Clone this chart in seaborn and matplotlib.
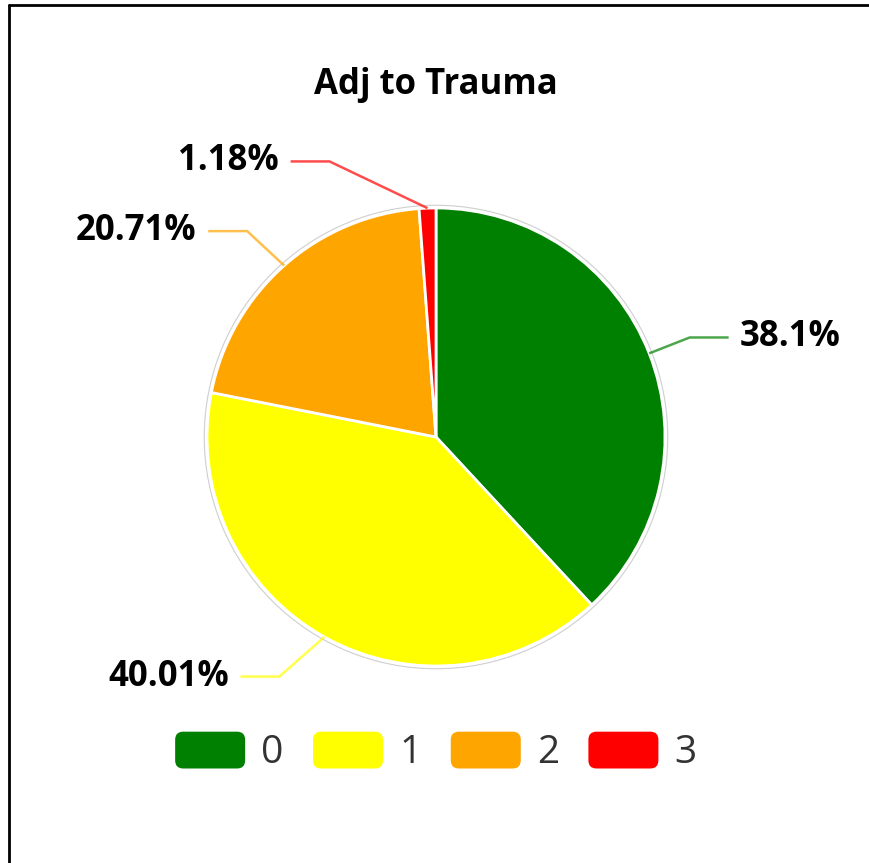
import numpy as np
import matplotlib.pyplot as plt
import seaborn as sns
from matplotlib.patches import FancyBboxPatch, Patch, Circle
from matplotlib.legend_handler import HandlerPatch
from matplotlib.lines import Line2D

categories = ['0', '1', '2', '3']
shares = [38.1, 40.01, 20.71, 1.18]
slice_colors = ['#008000', '#ffff00', '#ffa500', '#ff0000']
title = 'Adj to Trauma'

# label leader layout (angle shift in deg, elbow radius)
elbow_shift = [0, -4, 1, 19]
elbow_radius = [1.19, 1.25, 1.22, 1.29]


class RoundBox(HandlerPatch):
    def create_artists(self, legend, orig_handle, xdescent, ydescent,
                       width, height, fontsize, trans):
        p = FancyBboxPatch((-xdescent, -ydescent), width, height,
                           boxstyle='round,pad=0,rounding_size=%f' % (height * 0.22),
                           fc=orig_handle.get_facecolor(), ec='none',
                           transform=trans)
        return [p]


sns.set_theme(style='white')
plt.rcParams['font.family'] = ['Open Sans', 'DejaVu Sans']

fig = plt.figure(figsize=(8.7, 8.63), dpi=100)
ax = fig.add_axes([0, 0, 1, 1])

ax.add_patch(Circle((0, 0), 1.012, fill=False, ec='#cfcfcf', lw=0.8, zorder=0))
wedges, _ = ax.pie(shares, colors=slice_colors, startangle=90, counterclock=False,
                   radius=1, wedgeprops=dict(edgecolor='white', linewidth=2))

for i, w in enumerate(wedges):
    t = np.deg2rad((w.theta1 + w.theta2) / 2)
    te = t + np.deg2rad(elbow_shift[i])
    p0 = np.array([np.cos(t), np.sin(t)])
    p1 = elbow_radius[i] * np.array([np.cos(te), np.sin(te)])
    side = 1 if p1[0] >= 0 else -1
    p2 = p1 + np.array([side * 0.17, 0])
    ax.plot([p0[0], p1[0], p2[0]], [p0[1], p1[1], p2[1]],
            color=slice_colors[i], lw=1.8, alpha=0.7, solid_capstyle='butt')
    ax.text(p2[0] + side * 0.05, p2[1], f'{shares[i]:g}%',
            ha='left' if side > 0 else 'right', va='center',
            fontsize=25, fontweight='bold', color='black')

ax.set_xlim(-436 / 229, 434 / 229)
ax.set_ylim(-426 / 229, 437 / 229)
ax.axis('off')

fig.text(436 / 870, 1 - 85 / 863, title, ha='center', va='center',
         fontsize=25, fontweight='bold', color='black')

handles = [Patch(facecolor=c) for c in slice_colors]
ax.legend(handles, categories, loc='center', bbox_to_anchor=(436 / 870, 1 - 752 / 863),
          bbox_transform=fig.transFigure, ncol=4, frameon=False, fontsize=28,
          labelcolor='#333333', handlelength=1.8, handleheight=1.08,
          handletextpad=0.42, columnspacing=0.75, borderpad=0, borderaxespad=0,
          handler_map={Patch: RoundBox()})

# partial frame seen in the screenshot
fig.add_artist(Line2D([9 / 870, 1], [1 - 5 / 863, 1 - 5 / 863], color='black', lw=2,
                      transform=fig.transFigure))
fig.add_artist(Line2D([9 / 870, 9 / 870], [0, 1 - 5 / 863], color='black', lw=2,
                      transform=fig.transFigure))

fig.savefig('out.png', dpi=100, facecolor='white')
